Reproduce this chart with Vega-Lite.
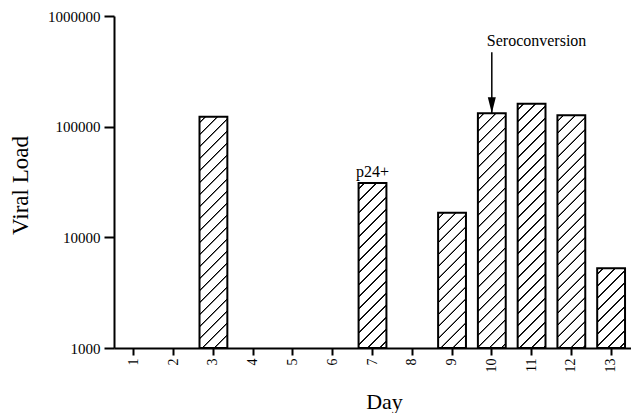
{
  "$schema": "https://vega.github.io/schema/vega-lite/v6.json",
  "width": 517,
  "height": 332,
  "autosize": {"type": "none"},
  "padding": {"left": 114, "top": 16, "right": 0, "bottom": 65},
  "background": "white",
  "config": {
    "view": {"stroke": null},
    "font": "Liberation Serif",
    "axis": {
      "labelFont": "Liberation Serif",
      "titleFont": "Liberation Serif",
      "labelColor": "black",
      "titleColor": "black",
      "titleFontWeight": "normal",
      "domainColor": "black",
      "tickColor": "black",
      "domainWidth": 2,
      "tickWidth": 2,
      "grid": false
    }
  },
  "params": [
    {
      "name": "hatch",
      "value": [
        {"offset": 0.016, "color": "#fff"}, {"offset": 0.0185, "color": "#000"}, {"offset": 0.0215, "color": "#000"}, {"offset": 0.024, "color": "#fff"},
        {"offset": 0.056, "color": "#fff"}, {"offset": 0.0585, "color": "#000"}, {"offset": 0.0615, "color": "#000"}, {"offset": 0.064, "color": "#fff"},
        {"offset": 0.096, "color": "#fff"}, {"offset": 0.0985, "color": "#000"}, {"offset": 0.1015, "color": "#000"}, {"offset": 0.104, "color": "#fff"},
        {"offset": 0.136, "color": "#fff"}, {"offset": 0.1385, "color": "#000"}, {"offset": 0.1415, "color": "#000"}, {"offset": 0.144, "color": "#fff"},
        {"offset": 0.176, "color": "#fff"}, {"offset": 0.1785, "color": "#000"}, {"offset": 0.1815, "color": "#000"}, {"offset": 0.184, "color": "#fff"},
        {"offset": 0.216, "color": "#fff"}, {"offset": 0.2185, "color": "#000"}, {"offset": 0.2215, "color": "#000"}, {"offset": 0.224, "color": "#fff"},
        {"offset": 0.256, "color": "#fff"}, {"offset": 0.2585, "color": "#000"}, {"offset": 0.2615, "color": "#000"}, {"offset": 0.264, "color": "#fff"},
        {"offset": 0.296, "color": "#fff"}, {"offset": 0.2985, "color": "#000"}, {"offset": 0.3015, "color": "#000"}, {"offset": 0.304, "color": "#fff"},
        {"offset": 0.336, "color": "#fff"}, {"offset": 0.3385, "color": "#000"}, {"offset": 0.3415, "color": "#000"}, {"offset": 0.344, "color": "#fff"},
        {"offset": 0.376, "color": "#fff"}, {"offset": 0.3785, "color": "#000"}, {"offset": 0.3815, "color": "#000"}, {"offset": 0.384, "color": "#fff"},
        {"offset": 0.416, "color": "#fff"}, {"offset": 0.4185, "color": "#000"}, {"offset": 0.4215, "color": "#000"}, {"offset": 0.424, "color": "#fff"},
        {"offset": 0.456, "color": "#fff"}, {"offset": 0.4585, "color": "#000"}, {"offset": 0.4615, "color": "#000"}, {"offset": 0.464, "color": "#fff"},
        {"offset": 0.496, "color": "#fff"}, {"offset": 0.4985, "color": "#000"}, {"offset": 0.5015, "color": "#000"}, {"offset": 0.504, "color": "#fff"},
        {"offset": 0.536, "color": "#fff"}, {"offset": 0.5385, "color": "#000"}, {"offset": 0.5415, "color": "#000"}, {"offset": 0.544, "color": "#fff"},
        {"offset": 0.576, "color": "#fff"}, {"offset": 0.5785, "color": "#000"}, {"offset": 0.5815, "color": "#000"}, {"offset": 0.584, "color": "#fff"},
        {"offset": 0.616, "color": "#fff"}, {"offset": 0.6185, "color": "#000"}, {"offset": 0.6215, "color": "#000"}, {"offset": 0.624, "color": "#fff"},
        {"offset": 0.656, "color": "#fff"}, {"offset": 0.6585, "color": "#000"}, {"offset": 0.6615, "color": "#000"}, {"offset": 0.664, "color": "#fff"},
        {"offset": 0.696, "color": "#fff"}, {"offset": 0.6985, "color": "#000"}, {"offset": 0.7015, "color": "#000"}, {"offset": 0.704, "color": "#fff"},
        {"offset": 0.736, "color": "#fff"}, {"offset": 0.7385, "color": "#000"}, {"offset": 0.7415, "color": "#000"}, {"offset": 0.744, "color": "#fff"},
        {"offset": 0.776, "color": "#fff"}, {"offset": 0.7785, "color": "#000"}, {"offset": 0.7815, "color": "#000"}, {"offset": 0.784, "color": "#fff"},
        {"offset": 0.816, "color": "#fff"}, {"offset": 0.8185, "color": "#000"}, {"offset": 0.8215, "color": "#000"}, {"offset": 0.824, "color": "#fff"},
        {"offset": 0.856, "color": "#fff"}, {"offset": 0.8585, "color": "#000"}, {"offset": 0.8615, "color": "#000"}, {"offset": 0.864, "color": "#fff"},
        {"offset": 0.896, "color": "#fff"}, {"offset": 0.8985, "color": "#000"}, {"offset": 0.9015, "color": "#000"}, {"offset": 0.904, "color": "#fff"},
        {"offset": 0.936, "color": "#fff"}, {"offset": 0.9385, "color": "#000"}, {"offset": 0.9415, "color": "#000"}, {"offset": 0.944, "color": "#fff"},
        {"offset": 0.976, "color": "#fff"}, {"offset": 0.9785, "color": "#000"}, {"offset": 0.9815, "color": "#000"}, {"offset": 0.984, "color": "#fff"}
      ]
    }
  ],
  "data": {
    "values": [
      {"Day": 1, "load": 1000},
      {"Day": 2, "load": 1000},
      {"Day": 3, "load": 123000},
      {"Day": 4, "load": 1000},
      {"Day": 5, "load": 1000},
      {"Day": 6, "load": 1000},
      {"Day": 7, "load": 31000},
      {"Day": 8, "load": 1000},
      {"Day": 9, "load": 16700},
      {"Day": 10, "load": 132000},
      {"Day": 11, "load": 161000},
      {"Day": 12, "load": 126600},
      {"Day": 13, "load": 5250}
    ]
  },
  "encoding": {
    "x": {
      "field": "Day",
      "type": "ordinal",
      "scale": {"domain": [1, 2, 3, 4, 5, 6, 7, 8, 9, 10, 11, 12, 13], "paddingInner": 0.3, "paddingOuter": 0.15},
      "axis": {
        "title": "Day",
        "titleFontSize": 22,
        "titleX": 270,
        "titleY": 60,
        "titleAlign": "center",
        "titleBaseline": "alphabetic",
        "labelAngle": 270,
        "labelFontSize": 14,
        "labelPadding": 3,
        "tickSize": 7
      }
    },
    "y": {
      "field": "load",
      "type": "quantitative",
      "scale": {"type": "log", "domain": [1000, 1000000], "nice": false},
      "axis": {
        "title": "Viral Load",
        "titleFontSize": 23,
        "titleAngle": 270,
        "titleX": -94,
        "titleY": 169,
        "titleAlign": "center",
        "titleBaseline": "middle",
        "values": [1000, 10000, 100000, 1000000],
        "format": "d",
        "labelFontSize": 15,
        "labelPadding": 4,
        "labelFlush": false,
        "tickSize": 10
      }
    }
  },
  "layer": [
    {
      "transform": [{"filter": "datum.load > 1000"}],
      "mark": {
        "type": "bar",
        "stroke": "black",
        "strokeWidth": 2,
        "fill": {"expr": "{gradient: 'linear', x1: 0, y1: 0, x2: 300 * bandwidth('x') / (pow(bandwidth('x'), 2) + pow(scale('y', 1000) - scale('y', datum.load), 2)), y2: 300 * (scale('y', 1000) - scale('y', datum.load)) / (pow(bandwidth('x'), 2) + pow(scale('y', 1000) - scale('y', datum.load), 2)), stops: hatch}"}
      },
      "encoding": {
        "y2": {"datum": 1000}
      }
    },
    {
      "data": {"values": [{"Day": 10, "top": 470000, "load": 132000}]},
      "mark": {"type": "rule", "color": "black", "strokeWidth": 1.5},
      "encoding": {
        "y": {"field": "top", "type": "quantitative"},
        "y2": {"field": "load"}
      }
    },
    {
      "data": {"values": [{"Day": 10, "load": 132000}]},
      "mark": {"type": "point", "shape": "M-1,-4L1,-4L0,0Z", "size": 64, "filled": true, "color": "black", "opacity": 1}
    },
    {
      "data": {"values": [{"Day": 7, "load": 31000, "label": "p24+"}]},
      "mark": {"type": "text", "baseline": "alphabetic", "align": "center", "dy": -6, "fontSize": 16, "color": "black"},
      "encoding": {"text": {"field": "label"}}
    },
    {
      "data": {"values": [{"Day": 10, "load": 590000, "label": "Seroconversion"}]},
      "mark": {"type": "text", "baseline": "middle", "align": "left", "dx": -5, "fontSize": 16, "color": "black"},
      "encoding": {"text": {"field": "label"}}
    }
  ]
}
